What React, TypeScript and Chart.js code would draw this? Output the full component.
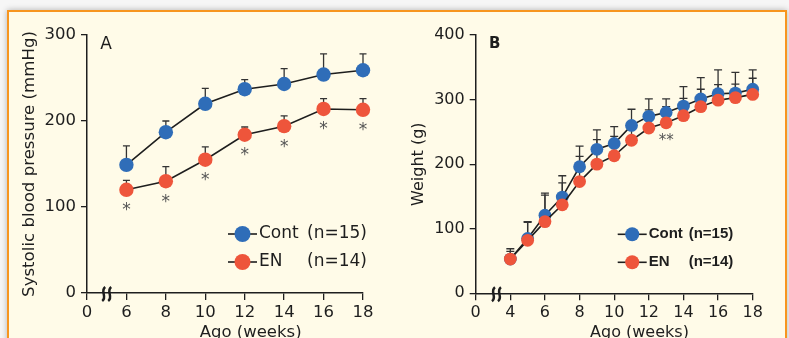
import { useEffect, useRef } from "react";
import { Chart, registerables } from "chart.js";
Chart.register(...registerables);

const FONT = '"DejaVu Sans", Verdana, sans-serif';
const FONT_B_LEGEND = '"Liberation Sans", Arial, sans-serif';
const BLUE = "#2f6db8";
const RED = "#ee553b";
const INK = "#1e1e1e";
const ERR = "#333333";

// ---------- Panel A: systolic blood pressure ----------
const weeksA = [6, 8, 10, 12, 14, 16, 18];
const contA = [149, 187, 220, 237, 243, 254, 259];
const contErrA = [22, 13, 18, 11, 18, 24, 19];
const enA = [120, 130, 155, 184, 194, 214, 213];
const enErrA = [11, 17, 15, 9, 12, 12, 13];
const sigA = ["*", "*", "*", "*", "*", "*", "*"];
const xTickPosA = [4, 6, 8, 10, 12, 14, 16, 18];
const xTickLabelsA = ["0", "6", "8", "10", "12", "14", "16", "18"];
const yTicksA = [0, 100, 200, 300];

// ---------- Panel B: body weight ----------
const weeksB = [4, 5, 6, 7, 8, 9, 10, 11, 12, 13, 14, 15, 16, 17, 18];
const contB = [53, 85, 121, 149, 196, 223, 232, 260, 274, 280, 290, 301, 309, 310, 316];
const contErrB = [16, 26, 34, 33, 32, 30, 26, 25, 27, 21, 30, 33, 37, 32, 30];
const enB = [53, 82, 111, 137, 173, 200, 213, 237, 256, 264, 275, 289, 299, 303, 308];
const enErrB = [12, 28, 41, 34, 39, 38, 30, 28, 28, 25, 27, 27, 24, 21, 25];
const sigB = ["", "", "", "", "", "", "", "", "", "**", "", "", "", "", ""];
const xTickPosB = [2, 4, 6, 8, 10, 12, 14, 16, 18];
const xTickLabelsB = ["0", "4", "6", "8", "10", "12", "14", "16", "18"];
const yTicksB = [0, 100, 200, 300, 400];

const legendNames = ["Cont", "EN"];
const legendCounts = ["(n=15)", "(n=14)"];
const xTitle = "Ago (weeks)";

type Cfg = {
  left: number; width: number; height: number;
  yAxisWidth: number; padRight: number; padTop: number; xAxisHeight: number;
  weeks: number[]; cont: number[]; contErr: number[]; en: number[]; enErr: number[]; sig: string[];
  xTickPos: number[]; xTickLabels: string[]; yTicks: number[];
  yTitle: string; yTitlePad: number; yTitleSize: number; yTitleWeight: string;
  letter: string; letterFont: string;
  tickSize: number; legendFont: string; countOffset: number; legendR: number;
  markerR: number; capHalf: number; breakAt: number; xTitleAt: number; xTitleSize: number;
  sigFont: string; sigOffset: number;
};

const panelA: Cfg = {
  left: 0, width: 395, height: 338,
  yAxisWidth: 87, padRight: 32, padTop: 35, xAxisHeight: 45,
  weeks: weeksA, cont: contA, contErr: contErrA, en: enA, enErr: enErrA, sig: sigA,
  xTickPos: xTickPosA, xTickLabels: xTickLabelsA, yTicks: yTicksA,
  yTitle: "Systolic blood pressure (mmHg)", yTitlePad: 19.5, yTitleSize: 16.6, yTitleWeight: "normal",
  letter: "A", letterFont: `17px ${FONT}`,
  tickSize: 16.5, legendFont: `17px ${FONT}`, countOffset: 48, legendR: 8,
  markerR: 7.2, capHalf: 3.5, breakAt: 5, xTitleAt: 12.3, xTitleSize: 16.5,
  sigFont: `17px ${FONT}`, sigOffset: 21,
};

const panelB: Cfg = {
  left: 395, width: 394, height: 338,
  yAxisWidth: 80.7, padRight: 36.3, padTop: 35, xAxisHeight: 44.7,
  weeks: weeksB, cont: contB, contErr: contErrB, en: enB, enErr: enErrB, sig: sigB,
  xTickPos: xTickPosB, xTickLabels: xTickLabelsB, yTicks: yTicksB,
  yTitle: "Weight (g)", yTitlePad: 14.5, yTitleSize: 16, yTitleWeight: "normal",
  letter: "B", letterFont: `bold 15px ${FONT}`,
  tickSize: 16, legendFont: `bold 15px ${FONT_B_LEGEND}`, countOffset: 40, legendR: 7,
  markerR: 6.4, capHalf: 4, breakAt: 3.2, xTitleAt: 11.46, xTitleSize: 16,
  sigFont: `15px ${FONT}`, sigOffset: 18,
};

function makePlugin(cfg: Cfg) {
  const errs = [cfg.contErr, cfg.enErr];
  const colors = [BLUE, RED];
  return {
    id: "extras" + cfg.letter,
    beforeDatasetsDraw(chart: any) {
      const ctx = chart.ctx as CanvasRenderingContext2D;
      const xs = chart.scales.x, ys = chart.scales.y;
      ctx.save();
      ctx.strokeStyle = ERR;
      ctx.lineWidth = 1.3;
      chart.data.datasets.forEach((ds: any, di: number) => {
        ds.data.forEach((p: any, i: number) => {
          const px = xs.getPixelForValue(p.x);
          const py = ys.getPixelForValue(p.y);
          const pt = ys.getPixelForValue(p.y + errs[di][i]);
          ctx.beginPath();
          ctx.moveTo(px, py);
          ctx.lineTo(px, pt);
          ctx.moveTo(px - cfg.capHalf, pt);
          ctx.lineTo(px + cfg.capHalf, pt);
          ctx.stroke();
        });
      });
      ctx.restore();
    },
    afterDraw(chart: any) {
      const ctx = chart.ctx as CanvasRenderingContext2D;
      const xs = chart.scales.x, ys = chart.scales.y;
      const area = chart.chartArea;
      ctx.save();
      // significance marks under EN points
      ctx.fillStyle = "#555";
      ctx.font = cfg.sigFont;
      ctx.textAlign = "center";
      ctx.textBaseline = "middle";
      cfg.sig.forEach((s, i) => {
        if (!s) return;
        const px = xs.getPixelForValue(cfg.weeks[i]);
        const py = ys.getPixelForValue(cfg.en[i]);
        ctx.fillText(s, px, py + cfg.sigOffset);
      });
      // axis break
      const bx = xs.getPixelForValue(cfg.breakAt);
      const by = area.bottom + 1;
      ctx.strokeStyle = INK;
      ctx.lineWidth = 2.5;
      for (const dx of [-3, 3]) {
        const cx = bx + dx;
        ctx.beginPath();
        ctx.moveTo(cx + 1.5, by - 7);
        ctx.bezierCurveTo(cx - 4, by - 3, cx + 4, by + 3, cx - 1.5, by + 7);
        ctx.stroke();
      }
      // panel letter
      ctx.fillStyle = INK;
      ctx.font = cfg.letterFont;
      ctx.textAlign = "center";
      ctx.fillText(cfg.letter, area.left + 19, area.top + 9.5);
      // x title
      ctx.font = `${cfg.xTitleSize}px ${FONT}`;
      ctx.fillText(xTitle, xs.getPixelForValue(cfg.xTitleAt), 333);
      // legend
      const R = area.right;
      const rows = [area.bottom - 59, area.bottom - 31];
      legendNames.forEach((name, i) => {
        const y = rows[i];
        ctx.strokeStyle = INK;
        ctx.lineWidth = 1.6;
        ctx.beginPath();
        ctx.moveTo(R - 135, y);
        ctx.lineTo(R - 106, y);
        ctx.stroke();
        ctx.fillStyle = colors[i];
        ctx.beginPath();
        ctx.arc(R - 120.5, y, cfg.legendR, 0, Math.PI * 2);
        ctx.fill();
        ctx.fillStyle = INK;
        ctx.font = cfg.legendFont;
        ctx.textAlign = "left";
        ctx.textBaseline = "middle";
        ctx.fillText(name, R - 104, y);
        ctx.fillText(legendCounts[i], R - 104 + cfg.countOffset, y);
      });
      ctx.restore();
    },
  };
}

function PanelChart({ cfg }: { cfg: Cfg }) {
  const ref = useRef<HTMLCanvasElement>(null);
  useEffect(() => {
    if (!ref.current) return;
    const pts = (vals: number[]) => cfg.weeks.map((w, i) => ({ x: w, y: vals[i] }));
    const tickFont = { family: FONT, size: cfg.tickSize };
    const chart = new Chart(ref.current, {
      type: "line",
      data: {
        datasets: [
          {
            label: legendNames[0], data: pts(cfg.cont), borderColor: INK, borderWidth: 1.6,
            pointRadius: cfg.markerR, pointBackgroundColor: BLUE, pointBorderColor: BLUE,
            pointBorderWidth: 0, order: 1, tension: 0, fill: false, clip: false as any,
          },
          {
            label: legendNames[1], data: pts(cfg.en), borderColor: INK, borderWidth: 1.6,
            pointRadius: cfg.markerR, pointBackgroundColor: RED, pointBorderColor: RED,
            pointBorderWidth: 0, order: 0, tension: 0, fill: false, clip: false as any,
          },
        ],
      },
      options: {
        responsive: false,
        animation: false,
        devicePixelRatio: 1,
        events: [],
        layout: { padding: { left: 0, right: cfg.padRight, top: cfg.padTop, bottom: 0 } },
        plugins: { legend: { display: false }, tooltip: { enabled: false } },
        scales: {
          x: {
            type: "linear",
            min: cfg.xTickPos[0],
            max: 18,
            afterBuildTicks: (s: any) => { s.ticks = cfg.xTickPos.map((v) => ({ value: v })); },
            afterFit: (s: any) => { s.height = cfg.xAxisHeight; },
            ticks: {
              autoSkip: false, maxRotation: 0, padding: 3, color: INK, font: tickFont,
              callback: (_v: any, i: number) => cfg.xTickLabels[i],
            },
            grid: { drawOnChartArea: false, drawTicks: true, tickLength: 7, color: INK, lineWidth: 1.3 },
            border: { display: true, color: INK, width: 1.5 },
          },
          y: {
            type: "linear",
            min: 0,
            max: cfg.yTicks[cfg.yTicks.length - 1],
            afterBuildTicks: (s: any) => { s.ticks = cfg.yTicks.map((v) => ({ value: v })); },
            afterFit: (s: any) => { s.width = cfg.yAxisWidth; },
            ticks: { padding: 5, color: INK, font: tickFont, callback: (v: any) => String(v) },
            grid: { drawOnChartArea: false, drawTicks: true, tickLength: 6, color: INK, lineWidth: 1.3 },
            border: { display: true, color: INK, width: 1.5 },
            title: {
              display: true, text: cfg.yTitle, color: INK,
              font: { family: FONT, size: cfg.yTitleSize, weight: cfg.yTitleWeight as any },
              padding: { top: cfg.yTitlePad, bottom: 0 },
            },
          },
        },
      },
      plugins: [makePlugin(cfg)],
    } as any);
    return () => chart.destroy();
  }, [cfg]);
  return (
    <canvas
      ref={ref}
      width={cfg.width}
      height={cfg.height}
      style={{ position: "absolute", left: cfg.left, top: 0, width: cfg.width, height: cfg.height }}
    />
  );
}

export default function App() {
  return (
    <div
      style={{
        position: "fixed", left: 0, top: 0, width: 789, height: 338,
        overflow: "hidden", background: "#f6f6f6",
      }}
    >
      <div
        style={{
          position: "absolute", left: 7, top: 10, width: 780, height: 345,
          boxSizing: "border-box", border: "2.5px solid #f7951f", borderBottom: "none",
          background: "#fffbe8", boxShadow: "0 0 6px rgba(0,0,0,0.28)",
        }}
      />
      <PanelChart cfg={panelA} />
      <PanelChart cfg={panelB} />
    </div>
  );
}
